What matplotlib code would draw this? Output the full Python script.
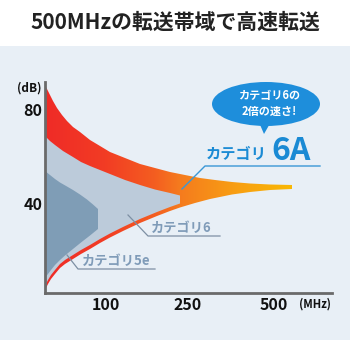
import numpy as np
import matplotlib
matplotlib.use("Agg")
import matplotlib.pyplot as plt
from matplotlib.patches import Polygon, Rectangle, Ellipse
from matplotlib.colors import LinearSegmentedColormap

plt.rcParams['font.family'] = ['Noto Sans CJK JP', 'DejaVu Sans']

# ---------------- data (x = position along frequency axis, y = dB) ----------------
title = "500MHzの転送帯域で高速転送"

cat6a_top_x = [0, 4, 8, 12, 17, 22, 28, 35, 45, 55, 65, 80, 95, 110, 125, 140, 155, 170, 187, 205, 225, 247]
cat6a_top_db = [90.21, 86.81, 83.40, 80.43, 77.45, 74.89, 72.34, 70.21, 66.81, 64.26, 61.70, 59.15,
                56.60, 54.89, 53.19, 51.91, 50.64, 49.79, 48.94, 48.30, 47.87, 47.66]
cat6a_bot_x = [0, 1, 3, 6, 10, 15, 20, 28, 36, 45, 55, 65, 78, 95, 112, 125, 135, 150, 165, 187, 205, 225, 247]
cat6a_bot_db = [2.55, 3.83, 5.53, 7.66, 9.79, 12.34, 14.04, 16.17, 18.30, 20.43, 22.98, 25.32, 28.09,
                31.49, 34.47, 36.60, 38.09, 40.00, 41.70, 43.62, 44.68, 45.53, 45.96]

cat6_top_x = [0, 5, 10, 18, 28, 36, 45, 55, 65, 80, 95, 110, 125, 135]
cat6_top_db = [68.51, 66.38, 64.68, 62.13, 59.57, 57.45, 55.74, 54.04, 52.34, 49.79, 47.66, 45.74, 44.26, 43.19]
cat6_bot_x = [0, 1, 3, 6, 10, 15, 20, 28, 36, 45, 55, 65, 78, 95, 112, 125, 135]
cat6_bot_db = [4.26, 5.53, 7.23, 9.36, 11.49, 14.04, 15.74, 17.87, 20.00, 22.13, 24.68, 27.02, 29.79,
               33.19, 36.17, 38.30, 39.79]

cat5e_top_x = [0, 5, 10, 15, 22, 28, 35, 42, 48, 53]
cat5e_top_db = [53.62, 51.91, 50.21, 48.72, 47.02, 45.53, 43.62, 41.49, 39.36, 37.45]
cat5e_bot_x = [0, 3, 6, 10, 15, 20, 28, 36, 45, 53]
cat5e_bot_db = [8.09, 9.79, 11.49, 13.62, 15.74, 17.66, 20.43, 23.19, 26.17, 28.94]

y_ticks = [80, 40]
y_tick_labels = ["80", "40"]
x_tick_pos = [61, 143, 229]
x_tick_labels = ["100", "250", "500"]
y_unit = "(dB)"
x_unit = "(MHz)"

label_6a_a = "カテゴリ"
label_6a_b = "6A"
label_6 = "カテゴリ6"
label_5e = "カテゴリ5e"
bubble_lines = ["カテゴリ6の", "2倍の速さ!"]

grad_pos = [0, 60, 110, 135, 190, 247, 287]
grad_cols = ["#ef2b27", "#f23c24", "#f45e20", "#f57b1e", "#f89e13", "#f9b804", "#f9b804"]

# ---------------- figure ----------------
W = H = 350
fig = plt.figure(figsize=(3.5, 3.5), dpi=100)
fig.patch.set_facecolor("white")

bg = fig.add_axes([0, 0, 1, 1], zorder=0)
bg.set_xlim(0, W); bg.set_ylim(H, 0); bg.axis("off")
bg.add_patch(Rectangle((0, 46), W, 294, facecolor="#e8eff6", edgecolor="none"))

ax_l, ax_r, ax_t, ax_b = 45, 332, 82, 293
ax = fig.add_axes([ax_l / W, 1 - ax_b / H, (ax_r - ax_l) / W, (ax_b - ax_t) / H], zorder=1)
ax.set_facecolor("none")
ymin = 80 - (ax_b - 109) / 2.35
ymax = 80 + (109 - ax_t) / 2.35

# Cat 6A gradient band
cmap = LinearSegmentedColormap.from_list("g", [(p / grad_pos[-1], c) for p, c in zip(grad_pos, grad_cols)])
grad = np.linspace(0, 1, 512).reshape(1, -1)
im = ax.imshow(grad, extent=[0, grad_pos[-1], ymin, ymax], aspect="auto", cmap=cmap,
               origin="lower", zorder=1, interpolation="bilinear")
poly6a = Polygon(np.column_stack([cat6a_top_x + cat6a_bot_x[::-1], cat6a_top_db + cat6a_bot_db[::-1]]),
                 closed=True, facecolor="none", edgecolor="none", transform=ax.transData)
ax.add_patch(poly6a)
im.set_clip_path(poly6a)

ax.fill(cat6_top_x + cat6_bot_x[::-1], cat6_top_db + cat6_bot_db[::-1], color="#bccbda", lw=0, zorder=2)
ax.fill(cat5e_top_x + cat5e_bot_x[::-1], cat5e_top_db + cat5e_bot_db[::-1], color="#7f9db6", lw=0, zorder=3)
ax.set_xlim(0, ax_r - ax_l)
ax.set_ylim(ymin, ymax)

for s in ["top", "right"]:
    ax.spines[s].set_visible(False)
for s in ["left", "bottom"]:
    ax.spines[s].set_color("#6a6a6a")
    ax.spines[s].set_linewidth(2.0)
    ax.spines[s].set_zorder(5)
ax.set_yticks(y_ticks)
ax.set_yticklabels(y_tick_labels, fontsize=11.5, fontweight="bold", color="#111111")
ax.set_xticks(x_tick_pos)
ax.set_xticklabels(x_tick_labels, fontsize=11.5, fontweight="bold", color="#111111")
ax.tick_params(axis="y", length=0, pad=2)
ax.tick_params(axis="x", length=0, pad=3)

# ---------------- overlay (pixel coordinates) ----------------
ov = fig.add_axes([0, 0, 1, 1], zorder=3)
ov.set_xlim(0, W); ov.set_ylim(H, 0); ov.axis("off")
ov.patch.set_alpha(0)

ov.text(175, 22, title, ha="center", va="center", fontsize=15, fontweight="bold", color="#222222")
ov.text(42, 88, y_unit, ha="right", va="center", fontsize=8.5, fontweight="bold", color="#111111")
ov.text(315, 304, x_unit, ha="center", va="center", fontsize=8, fontweight="bold", color="#111111")

# speech bubble
blue = "#1e8edb"
ov.add_patch(Ellipse((266, 104), 108, 44, facecolor=blue, edgecolor="none"))
ov.add_patch(Polygon([(258, 120), (272, 120), (264, 134)], closed=True, facecolor=blue, edgecolor="none"))
ov.text(269, 95, bubble_lines[0], ha="center", va="center", fontsize=8, fontweight="bold", color="white")
ov.text(269, 111, bubble_lines[1], ha="center", va="center", fontsize=8, fontweight="bold", color="white")

# Cat 6A label
lab_blue = "#1a8ad4"
ov.text(206, 154, label_6a_a, ha="left", va="center", fontsize=11, fontweight="bold", color=lab_blue)
ov.text(271, 160, label_6a_b, ha="left", va="baseline", fontsize=23, fontweight="bold", color=lab_blue)
ov.plot([182, 205, 320], [189, 166, 166], color="#3a97d6", lw=1.0)

# Cat 6 / 5e labels
grey = "#7f9bb8"
ov.text(151, 228, label_6, ha="left", va="center", fontsize=9.5, fontweight="bold", color=grey)
ov.plot([128, 148, 220], [215, 236, 236], color="#7d8fa3", lw=0.9)
ov.text(82, 261, label_5e, ha="left", va="center", fontsize=9.5, fontweight="bold", color=grey)
ov.plot([67, 78, 155], [255, 269, 269], color="#7d8fa3", lw=0.9)

fig.savefig("out.png", dpi=100)
